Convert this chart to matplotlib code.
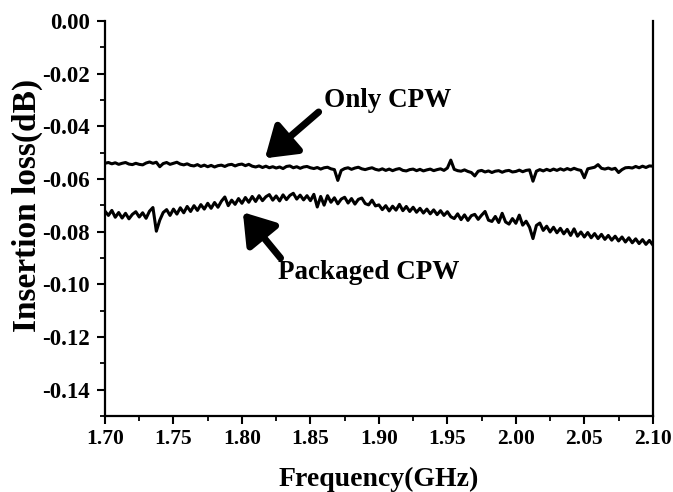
import numpy as np
import matplotlib
matplotlib.use('Agg')
import matplotlib.pyplot as plt
from matplotlib.ticker import MultipleLocator, FormatStrFormatter

# frequency grid (GHz), 0.0025 GHz step
freq = np.round(np.arange(1.70, 2.10001, 0.0025), 4)

# insertion loss (dB)
only_cpw = [
    -0.0540, -0.0537, -0.0542, -0.0538, -0.0544, -0.0540, -0.0537, -0.0543, -0.0545, -0.0540,
    -0.0544, -0.0546, -0.0539, -0.0535, -0.0540, -0.0536, -0.0553, -0.0541, -0.0537, -0.0544,
    -0.0540, -0.0536, -0.0543, -0.0546, -0.0542, -0.0548, -0.0550, -0.0545, -0.0552, -0.0547,
    -0.0553, -0.0548, -0.0554, -0.0549, -0.0547, -0.0552, -0.0546, -0.0544, -0.0550, -0.0545,
    -0.0543, -0.0549, -0.0544, -0.0551, -0.0554, -0.0550, -0.0556, -0.0551, -0.0557, -0.0553,
    -0.0558, -0.0554, -0.0560, -0.0552, -0.0550, -0.0557, -0.0553, -0.0559, -0.0554, -0.0552,
    -0.0557, -0.0560, -0.0556, -0.0562, -0.0557, -0.0555, -0.0561, -0.0564, -0.0605, -0.0567,
    -0.0560, -0.0557, -0.0563, -0.0558, -0.0555, -0.0561, -0.0564, -0.0560, -0.0557, -0.0563,
    -0.0566, -0.0561, -0.0567, -0.0562, -0.0568, -0.0563, -0.0560, -0.0567, -0.0569, -0.0564,
    -0.0562, -0.0568, -0.0563, -0.0569, -0.0565, -0.0562, -0.0568, -0.0564, -0.0561, -0.0567,
    -0.0558, -0.0528, -0.0563, -0.0568, -0.0570, -0.0565, -0.0571, -0.0575, -0.0588, -0.0570,
    -0.0567, -0.0573, -0.0569, -0.0575, -0.0570, -0.0568, -0.0574, -0.0569, -0.0567, -0.0573,
    -0.0571, -0.0566, -0.0572, -0.0567, -0.0565, -0.0608, -0.0570, -0.0564, -0.0569, -0.0563,
    -0.0568, -0.0562, -0.0567, -0.0561, -0.0566, -0.0560, -0.0565, -0.0559, -0.0564, -0.0567,
    -0.0595, -0.0561, -0.0558, -0.0555, -0.0545, -0.0559, -0.0562, -0.0558, -0.0563, -0.0559,
    -0.0575, -0.0564, -0.0557, -0.0556, -0.0558, -0.0552, -0.0557, -0.0551, -0.0556, -0.0550,
    -0.0551,
]

packaged_cpw = [
    -0.0722, -0.0738, -0.0719, -0.0745, -0.0727, -0.0748, -0.0730, -0.0751, -0.0734, -0.0724,
    -0.0744, -0.0728, -0.0749, -0.0722, -0.0708, -0.0798, -0.0756, -0.0727, -0.0716, -0.0738,
    -0.0714, -0.0733, -0.0709, -0.0728, -0.0704, -0.0723, -0.0701, -0.0719, -0.0697, -0.0714,
    -0.0692, -0.0711, -0.0689, -0.0707, -0.0684, -0.0668, -0.0701, -0.0680, -0.0696, -0.0674,
    -0.0692, -0.0670, -0.0688, -0.0666, -0.0685, -0.0663, -0.0682, -0.0667, -0.0659, -0.0680,
    -0.0664, -0.0683, -0.0660, -0.0678, -0.0662, -0.0654, -0.0676, -0.0661, -0.0679, -0.0663,
    -0.0682, -0.0658, -0.0706, -0.0666, -0.0699, -0.0663, -0.0688, -0.0671, -0.0694, -0.0676,
    -0.0669, -0.0691, -0.0674, -0.0695, -0.0677, -0.0672, -0.0693, -0.0698, -0.0680, -0.0702,
    -0.0698, -0.0716, -0.0701, -0.0721, -0.0703, -0.0718, -0.0696, -0.0720, -0.0704, -0.0723,
    -0.0707, -0.0726, -0.0711, -0.0729, -0.0714, -0.0732, -0.0717, -0.0735, -0.0720, -0.0738,
    -0.0724, -0.0743, -0.0750, -0.0732, -0.0754, -0.0736, -0.0757, -0.0739, -0.0734, -0.0753,
    -0.0737, -0.0723, -0.0756, -0.0761, -0.0742, -0.0765, -0.0730, -0.0763, -0.0771, -0.0750,
    -0.0768, -0.0737, -0.0775, -0.0760, -0.0783, -0.0826, -0.0776, -0.0767, -0.0795, -0.0779,
    -0.0801, -0.0783, -0.0804, -0.0787, -0.0808, -0.0791, -0.0814, -0.0789, -0.0817, -0.0801,
    -0.0820, -0.0803, -0.0823, -0.0807, -0.0826, -0.0810, -0.0829, -0.0814, -0.0832, -0.0817,
    -0.0835, -0.0820, -0.0839, -0.0823, -0.0842, -0.0827, -0.0845, -0.0830, -0.0848, -0.0833,
    -0.0850,
]

plt.rcParams['font.family'] = 'Liberation Serif'
plt.rcParams['font.weight'] = 'bold'
plt.rcParams['axes.unicode_minus'] = False

fig = plt.figure(figsize=(6.73, 4.92), dpi=100)
ax = fig.add_axes([0.156, 0.1545, 0.814, 0.8025])

ax.plot(freq, only_cpw, color='black', linewidth=2.2)
ax.plot(freq, packaged_cpw, color='black', linewidth=2.2)

ax.set_xlim(1.70, 2.10)
ax.set_ylim(-0.15, 0.0)
ax.xaxis.set_major_locator(MultipleLocator(0.05))
ax.xaxis.set_minor_locator(MultipleLocator(0.025))
ax.yaxis.set_minor_locator(MultipleLocator(0.01))
ax.xaxis.set_major_formatter(FormatStrFormatter('%.2f'))
ax.yaxis.set_major_formatter(FormatStrFormatter('%.2f'))
ax.set_yticks(np.arange(-0.14, 0.001, 0.02))

ax.spines['top'].set_visible(False)
for s in ['left', 'bottom', 'right']:
    ax.spines[s].set_linewidth(1.6)
ax.tick_params(which='major', direction='out', length=6, width=1.5)
ax.tick_params(axis='x', which='major', labelsize=15.5)
ax.tick_params(axis='y', which='major', labelsize=16.5, pad=5)
ax.tick_params(which='minor', direction='out', length=3.5, width=1.3)
ax.tick_params(right=False, top=False, which='both')

ax.set_xlabel('Frequency(GHz)', fontsize=20, fontweight='bold', labelpad=13)
ax.set_ylabel('Insertion loss(dB)', fontsize=24, fontweight='bold')
ax.yaxis.set_label_coords(-0.114, 0.534)

# annotations
arrow = dict(arrowstyle='-|>,head_length=0.75,head_width=0.5', color='black',
             lw=5, mutation_scale=24, shrinkA=0, shrinkB=0)
ax.annotate('', xy=(1.8168, -0.0521), xytext=(1.8560, -0.0345), arrowprops=arrow)
ax.annotate('', xy=(1.8007, -0.0726), xytext=(1.8282, -0.0900), arrowprops=arrow)
ax.text(1.9066, -0.0300, 'Only CPW', fontsize=19.5, fontweight='bold',
        ha='center', va='center')
ax.text(1.8927, -0.0954, 'Packaged CPW', fontsize=19.5, fontweight='bold',
        ha='center', va='center')

fig.savefig('out.png', dpi=100)
